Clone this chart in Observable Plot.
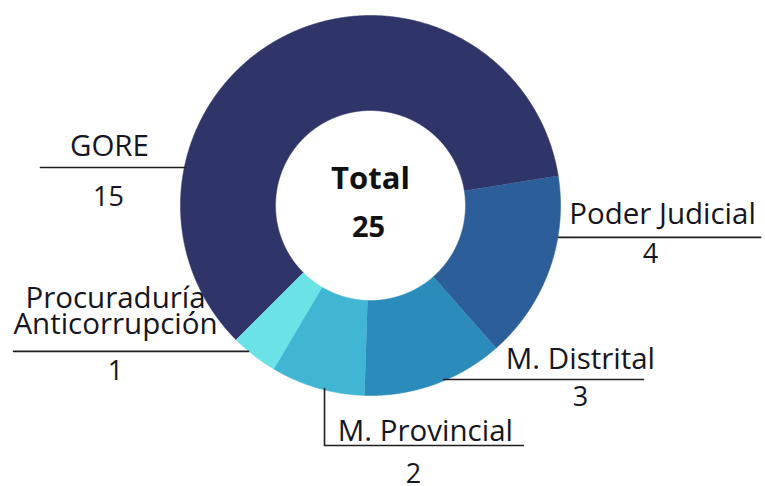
<!DOCTYPE html>
<html>
<head>
<meta charset="utf-8">
<script src="https://cdn.jsdelivr.net/npm/d3@7"></script>
<script src="https://cdn.jsdelivr.net/npm/@observablehq/plot@0.6"></script>
<style>
  html, body { margin: 0; padding: 0; background: #fff; }
</style>
</head>
<body>
<div id="chart"></div>
<script>
// ---- data ----
const categories = ["GORE", "Poder Judicial", "M. Distrital", "M. Provincial", "Procuraduría Anticorrupción"];
const values = [15, 4, 3, 2, 1];
const colors = ["#2f3469", "#2c5f99", "#2b8bba", "#41b6d4", "#6be3e6"];
const totalLabel = "Total";
const totalValue = d3.sum(values);

// ---- layout (in units of the outer radius, donut centred at 0,0) ----
const innerRatio = 0.5;
const startDeg = -135;
const labelLayout = [
  {name: "GORE", text: "GORE", tx: -1.374, ty: 0.258, vx: -1.379, vy: 0.0,
   path: [[-1.737, 0.2], [-0.974, 0.2]]},
  {name: "Poder Judicial", text: "Poder Judicial", tx: 1.537, ty: -0.095, vx: 1.474, vy: -0.3,
   path: [[0.989, -0.168], [2.053, -0.168]]},
  {name: "M. Distrital", text: "M. Distrital", tx: 1.105, ty: -0.858, vx: 1.105, vy: -1.053,
   path: [[0.384, -0.916], [1.437, -0.916]]},
  {name: "M. Provincial", text: "M. Provincial", tx: 0.289, ty: -1.237, vx: 0.226, vy: -1.462,
   path: [[-0.242, -0.963], [-0.242, -1.263], [0.805, -1.263]]},
  {name: "Procuraduría Anticorrupción", text: "Procuraduría\nAnticorrupción", tx: -1.342, ty: -0.674, vx: -1.342, vy: -0.916,
   path: [[-1.879, -0.768], [-0.642, -0.768]]}
];

// ---- build slice polygons from d3.pie angles ----
const rows = categories.map((name, i) => ({name, value: values[i]}));
const pie = d3.pie().value(d => d.value).sort(null)
  .startAngle(startDeg * Math.PI / 180)
  .endAngle(startDeg * Math.PI / 180 + 2 * Math.PI);
const arcs = pie(rows);
const slicePts = [];
const step = Math.PI / 720;
for (const a of arcs) {
  const n = Math.max(2, Math.ceil((a.endAngle - a.startAngle) / step));
  for (let k = 0; k <= n; k++) {
    const t = a.startAngle + (a.endAngle - a.startAngle) * k / n;
    slicePts.push({name: a.data.name, x: Math.sin(t), y: Math.cos(t)});
  }
  for (let k = n; k >= 0; k--) {
    const t = a.startAngle + (a.endAngle - a.startAngle) * k / n;
    slicePts.push({name: a.data.name, x: innerRatio * Math.sin(t), y: innerRatio * Math.cos(t)});
  }
}

const valueOf = Object.fromEntries(rows.map(r => [r.name, r.value]));
const leaderPts = labelLayout.flatMap(l => l.path.map(([x, y]) => ({name: l.name, x, y})));
const font = "'Open Sans', 'Noto Sans', sans-serif";

const chart = Plot.plot({
  width: 765,
  height: 486,
  margin: 0,
  x: {domain: [-370 / 190, 395 / 190], axis: null},
  y: {domain: [-281 / 190, 205 / 190], axis: null},
  color: {domain: categories, range: colors},
  style: {fontFamily: font, background: "#fff"},
  marks: [
    Plot.line(slicePts, {x: "x", y: "y", z: "name", fill: "name", stroke: "name", strokeWidth: 0.6, curve: "linear"}),
    Plot.line(leaderPts, {x: "x", y: "y", z: "name", stroke: "#1e1e1e", strokeWidth: 1.6}),
    Plot.text(labelLayout, {x: "tx", y: "ty", text: "text", lineAnchor: "bottom", textAnchor: "middle",
      fontSize: 29.5, lineHeight: 0.86, fill: "#161622", fontFamily: font}),
    Plot.text(labelLayout, {x: "vx", y: "vy", text: d => String(valueOf[d.name]), lineAnchor: "bottom", textAnchor: "middle",
      fontSize: 27, fill: "#161622", fontFamily: font}),
    Plot.text([totalLabel], {x: 0, y: 0.089, text: d => d, lineAnchor: "bottom", textAnchor: "middle",
      fontSize: 31, fontWeight: "bold", fill: "#111", fontFamily: font}),
    Plot.text([totalValue], {x: -0.01, y: -0.168, text: d => String(d), lineAnchor: "bottom", textAnchor: "middle",
      fontSize: 29, fontWeight: "bold", fill: "#111", fontFamily: font})
  ]
});
document.getElementById("chart").appendChild(chart);
</script>
</body>
</html>
